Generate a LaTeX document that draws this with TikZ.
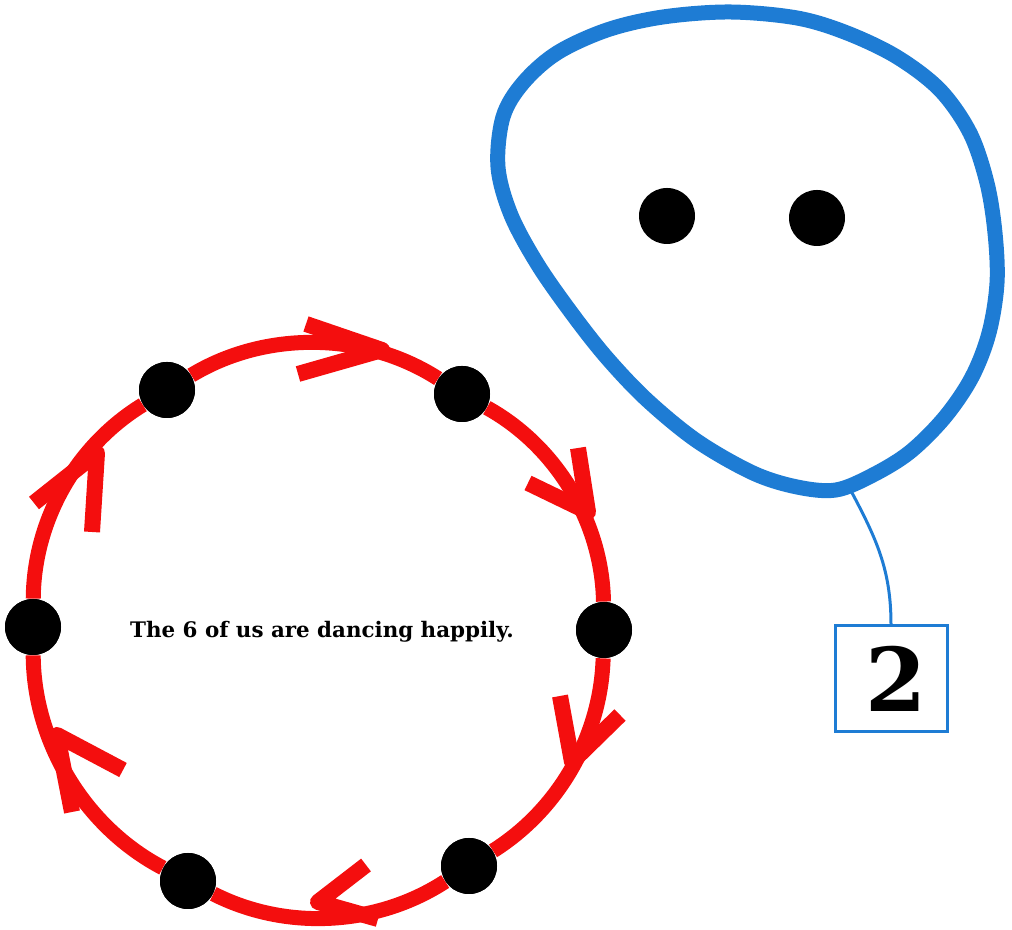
\documentclass[tikz,border=0pt]{standalone}
\usepackage{fontspec}
\newfontfamily\txtfont{DejaVu Serif}
\newfontfamily\numfont{DejaVu Serif}
\definecolor{dancered}{RGB}{244,14,14}
\definecolor{blobblue}{RGB}{30,124,212}
\begin{document}
\begin{tikzpicture}[x=0.5pt,y=0.5pt,
  dot/.style={circle,fill=black,inner sep=0pt,minimum size=28pt},
  ring/.style={draw=dancered,line width=7.5pt},
  chev/.style={draw=dancered,line width=8pt,line join=round},
  blueline/.style={draw=blobblue,line width=7.5pt},
  leader/.style={draw=blobblue,line width=1.5pt},
  numbox/.style={draw=blobblue,line width=1.5pt,fill=white,minimum width=56pt,minimum height=53pt,inner sep=0pt}]
\useasboundingbox (0,0) rectangle (1012,930);
% dancers
\node[dot] (TL) at (167,540) {};
\node[dot] (TR) at (462,536) {};
\node[dot] (R)  at (604,300) {};
\node[dot] (BR) at (469,64) {};
\node[dot] (BL) at (188,49) {};
\node[dot] (L)  at (33,303) {};
% ring connectors
\draw[ring] (TL) to[bend left=32,looseness=0.9] (TR);
\draw[ring] (TR) to[bend left=30,looseness=0.9] (R);
\draw[ring] (R)  to[bend left=28,looseness=0.9] (BR);
\draw[ring] (BR) to[bend left=30,looseness=0.9] (BL);
\draw[ring] (BL) to[bend left=31,looseness=0.9] (L);
\draw[ring] (L)  to[bend left=29,looseness=0.9] (TL);
% chevron arrowheads
\coordinate (t1) at (382,580); \coordinate (a1) at (306,606); \coordinate (b1) at (298,556);
\coordinate (t2) at (588,418); \coordinate (a2) at (578,482); \coordinate (b2) at (528,447);
\coordinate (t3) at (572,168); \coordinate (a3) at (560,234); \coordinate (b3) at (620,215);
\coordinate (t4) at (318,28);  \coordinate (a4) at (366,65);  \coordinate (b4) at (378,11);
\coordinate (t5) at (57,195);  \coordinate (a5) at (123,160); \coordinate (b5) at (72,118);
\coordinate (t6) at (97,477);  \coordinate (a6) at (34,427);  \coordinate (b6) at (92,398);
\draw[chev] (a1) -- (t1) -- (b1);
\draw[chev] (a2) -- (t2) -- (b2);
\draw[chev] (a3) -- (t3) -- (b3);
\draw[chev] (a4) -- (t4) -- (b4);
\draw[chev] (a5) -- (t5) -- (b5);
\draw[chev] (a6) -- (t6) -- (b6);
% dots on top again
\foreach \n in {TL,TR,R,BR,BL,L} {\fill[black] (\n) circle (28);}
% caption
\node (cap) at (322,298) {\txtfont\bfseries\fontsize{10.7}{12}\selectfont The 6 of us are dancing happily.};
% blue blob
\draw[blueline] plot[smooth cycle, tension=0.55] coordinates {
 (498,763) (503,813) (523,847) (557,877) (607,900) (663,913) (730,918)
 (797,912) (847,897) (897,873) (940,840) (970,797) (987,747) (995,697)
 (997,647) (989,597) (972,553) (945,513) (910,478) (873,455) (836,440)
 (797,443) (753,457) (697,489) (647,530) (607,572) (573,615) (538,665)
 (511,715)};
\node[dot] (e1) at (667,714) {};
\node[dot] (e2) at (817,712) {};
% number box
\node[numbox] (num) at (891,251) {\numfont\bfseries\fontsize{44}{44}\selectfont\hspace*{5pt}2};
\coordinate (tail) at (850,441);
\draw[leader] (tail) to[out=-62,in=90] (num.north);
\end{tikzpicture}
\end{document}
